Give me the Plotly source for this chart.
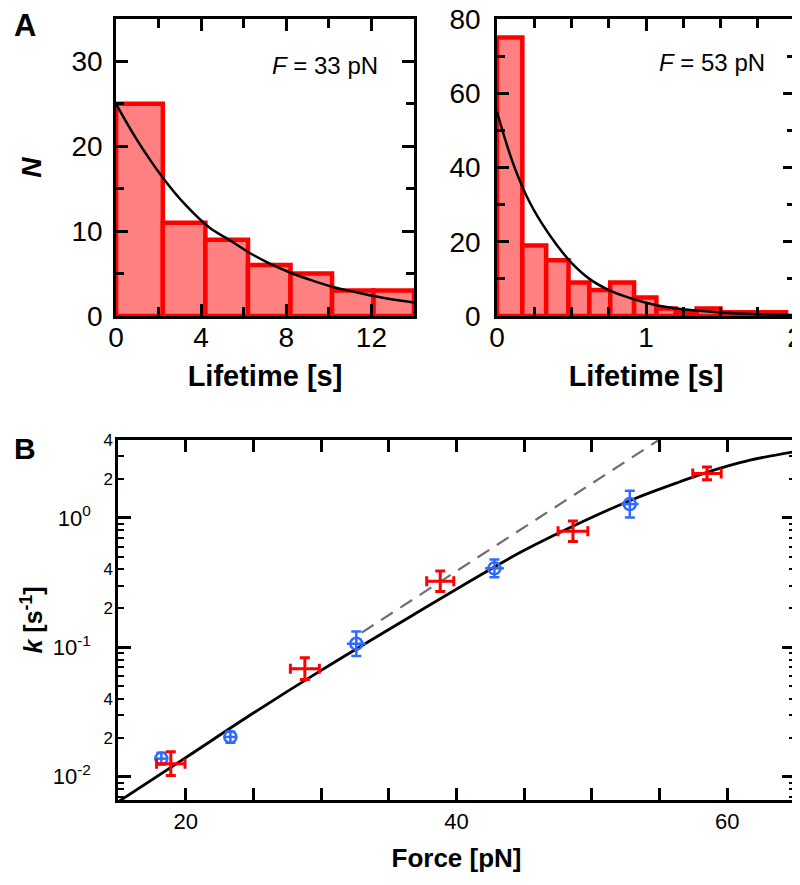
import numpy as np
import plotly.graph_objects as go

# ---------------- data ----------------
# Panel A, F = 33 pN histogram
hist33_edges = [0, 2.2, 4.2, 6.2, 8.2, 10.15, 12.1, 14.0]
hist33_counts = [25, 11, 9, 6, 5, 3, 3]
fit33_t = [0, 1.0, 2.2, 3.3, 4.4, 5.3, 6.3, 7.2, 8.2, 9.2, 10.15, 11.1, 12.1, 13.0, 14.0]
fit33_N = [25, 20.7, 16.3, 13.0, 10.4, 9.0, 7.4, 6.2, 5.1, 4.2, 3.45, 2.9, 2.35, 1.95, 1.6]

# Panel A, F = 53 pN histogram
hist53_edges = [0, 0.17, 0.33, 0.48, 0.62, 0.76, 0.92, 1.07, 1.20, 1.34, 1.50, 1.64, 1.79, 1.94]
hist53_counts = [75, 19, 15, 9, 7, 9, 5, 2, 1, 2, 1, 1, 1]
fit53_t = [0, 0.1, 0.2, 0.3, 0.4, 0.5, 0.62, 0.73, 0.85, 0.96, 1.07, 1.3, 1.52, 1.75, 2.0]
fit53_N = [55, 42, 32.2, 25.0, 19.2, 14.3, 10.0, 7.4, 5.4, 4.0, 2.9, 1.6, 0.9, 0.5, 0.25]

# Panel B, rate vs force
red_F = [18.9, 28.8, 38.8, 48.6, 58.5]
red_k = [0.0126, 0.0684, 0.324, 0.788, 2.21]
red_F_err = [1.05, 1.07, 1.0, 1.1, 1.05]
red_k_up = [0.0030, 0.0146, 0.065, 0.159, 0.27]
red_k_dn = [0.0024, 0.0120, 0.054, 0.131, 0.24]

blue_F = [18.2, 23.3, 32.6, 42.8, 52.8]
blue_k = [0.0138, 0.0203, 0.1066, 0.408, 1.28]
blue_F_err = [0.5, 0.5, 0.7, 0.7, 0.65]
blue_k_up = [0.0015, 0.002, 0.026, 0.07, 0.34]
blue_k_dn = [0.0014, 0.002, 0.021, 0.06, 0.27]

fit_F = [15, 20, 25, 30, 37, 42.7, 45, 49.1, 53.1, 56.5, 59, 61.4, 65]
fit_k = [0.00638, 0.01403, 0.03105, 0.0664, 0.1832, 0.412, 0.562, 0.914, 1.403, 1.905, 2.344, 2.754, 3.26]

bell_F = [33.0, 55.0]
bell_k = [0.130, 4.04]

# log-axis tick labels
decade_vals = [0.01, 0.1, 1]
decade_text = ["10<sup>-2</sup>", "10<sup>-1</sup>", "10<sup>0</sup>"]
sub_vals = [0.02, 0.04, 0.2, 0.4, 2, 4]
sub_text = ["2", "4", "2", "4", "2", "4"]
minor_vals = [0.007, 0.008, 0.009, 0.02, 0.03, 0.04, 0.05, 0.06, 0.07, 0.08, 0.09,
              0.2, 0.3, 0.4, 0.5, 0.6, 0.7, 0.8, 0.9, 2, 3, 4]

# ---------------- style ----------------
FONT = "Liberation Sans, Arial, sans-serif"
RED = "#ff0000"
PINK = "rgb(255,128,128)"
BLUE = "#2f6bff"
W, H = 792, 877   # page body has an 8px margin, so the figure is drawn 8px in

fig = go.Figure()


def add_hist(edges, counts, xa, ya):
    e = np.array(edges, dtype=float)
    centers = (e[:-1] + e[1:]) / 2
    widths = e[1:] - e[:-1]
    fig.add_trace(go.Bar(x=centers, y=counts, width=widths, xaxis=xa, yaxis=ya,
                         marker=dict(color=PINK, line=dict(color=RED, width=4.5)),
                         showlegend=False))


add_hist(hist33_edges, hist33_counts, "x", "y")
fig.add_trace(go.Scatter(x=fit33_t, y=fit33_N, mode="lines", xaxis="x", yaxis="y",
                         line=dict(color="black", width=2.5, shape="spline"), showlegend=False))
add_hist(hist53_edges, hist53_counts, "x2", "y2")
fig.add_trace(go.Scatter(x=fit53_t, y=fit53_N, mode="lines", xaxis="x2", yaxis="y2",
                         line=dict(color="black", width=2.5, shape="spline"), showlegend=False))

# Panel B
fig.add_trace(go.Scatter(x=bell_F, y=bell_k, mode="lines", xaxis="x3", yaxis="y3",
                         line=dict(color="rgb(110,110,110)", width=2.2, dash="14px,9px"),
                         showlegend=False))
fig.add_trace(go.Scatter(x=fit_F, y=fit_k, mode="lines", xaxis="x3", yaxis="y3",
                         line=dict(color="black", width=2.8, shape="spline", smoothing=1.0),
                         showlegend=False))
fig.add_trace(go.Scatter(x=blue_F, y=blue_k, mode="markers", xaxis="x3", yaxis="y3",
                         marker=dict(symbol="circle-open", size=12, color=BLUE,
                                     line=dict(width=2.5, color=BLUE)),
                         error_x=dict(type="data", array=blue_F_err, color=BLUE, thickness=2.5, width=0),
                         error_y=dict(type="data", array=blue_k_up, arrayminus=blue_k_dn,
                                      color=BLUE, thickness=2.5, width=5),
                         showlegend=False))
fig.add_trace(go.Scatter(x=red_F, y=red_k, mode="markers", xaxis="x3", yaxis="y3",
                         marker=dict(size=2, color=RED),
                         error_x=dict(type="data", array=red_F_err, color=RED, thickness=3, width=5),
                         error_y=dict(type="data", array=red_k_up, arrayminus=red_k_dn,
                                      color=RED, thickness=3, width=5),
                         showlegend=False))
# dummy trace so the overlay label axis is drawn
fig.add_trace(go.Scatter(x=[None], y=[None], xaxis="x3", yaxis="y4", mode="markers",
                         showlegend=False, hoverinfo="skip"))

TICKF_A = dict(family=FONT, size=28, color="black")
TICKF_B = dict(family=FONT, size=22, color="black")
common = dict(showline=True, linecolor="black", linewidth=2.5, mirror="allticks",
              ticks="inside", tickcolor="black", tickwidth=2.5, showgrid=False, zeroline=False,
              automargin=False, ticklabeloverflow="allow")

# plot areas, page pixels -> paper fractions
def dx(p0, p1):
    return [(p0 - 8) / W, (p1 - 8) / W]

def dy(top, bottom):
    return [1 - (bottom - 8) / H, 1 - (top - 8) / H]

fig.update_layout(
    width=W, height=H, autosize=False,
    margin=dict(l=0, r=0, t=0, b=0),
    paper_bgcolor="white", plot_bgcolor="white",
    font=dict(family=FONT, color="black"),
    barmode="overlay",
    xaxis=dict(domain=dx(116, 414), range=[0, 14], anchor="y",
               tickvals=[0, 4, 8, 12], ticklen=12, tickfont=TICKF_A, ticklabelstandoff=-5,
               minor=dict(dtick=2, ticks="inside", ticklen=9, tickcolor="black", tickwidth=2.5),
               title=dict(text="<b>Lifetime [s]</b>", font=dict(family=FONT, size=29), standoff=14),
               **common),
    yaxis=dict(domain=dy(19, 316), range=[0, 35], anchor="x",
               tickvals=[0, 10, 20, 30], ticklen=12, tickfont=TICKF_A, ticklabelstandoff=5,
               minor=dict(dtick=5, ticks="inside", ticklen=8, tickcolor="black", tickwidth=2.5),
               title=dict(text="<b><i>N</i></b>", font=dict(family=FONT, size=28), standoff=22),
               **common),
    xaxis2=dict(domain=dx(497, 795), range=[0, 2], anchor="y2",
                tickvals=[0, 1, 2], ticklen=12, tickfont=TICKF_A, ticklabelstandoff=-5,
                minor=dict(dtick=0.25, ticks="inside", ticklen=9, tickcolor="black", tickwidth=2.5),
                title=dict(text="<b>Lifetime [s]</b>", font=dict(family=FONT, size=29), standoff=14),
                **common),
    yaxis2=dict(domain=dy(19, 316), range=[0, 80], anchor="x2",
                tickvals=[0, 20, 40, 60, 80], ticklen=12, tickfont=TICKF_A, ticklabelstandoff=8,
                minor=dict(dtick=10, ticks="inside", ticklen=8, tickcolor="black", tickwidth=2.5),
                **common),
    xaxis3=dict(domain=dx(118, 795), range=[15, 65], anchor="y3",
                tickvals=[20, 40, 60], ticklen=12, tickfont=TICKF_B,
                minor=dict(dtick=5, ticks="inside", ticklen=8, tickcolor="black", tickwidth=2.5),
                title=dict(text="<b>Force [pN]</b>", font=dict(family=FONT, size=26), standoff=16),
                **common),
    yaxis3=dict(domain=dy(440, 800), type="log", range=[-2.18, 0.6025], anchor="x3",
                tickvals=decade_vals, ticktext=decade_text, ticklen=13, tickfont=TICKF_B,
                ticklabelstandoff=20,
                minor=dict(tickvals=minor_vals, ticks="inside", ticklen=6, tickcolor="black", tickwidth=2.2),
                title=dict(text="<b><i>k</i> [s<sup>-1</sup>]</b>", font=dict(family=FONT, size=25), standoff=3),
                **common),
    yaxis4=dict(domain=dy(440, 800), type="log", range=[-2.18, 0.6025], anchor="x3",
                overlaying="y3", side="left", showline=False, showgrid=False, zeroline=False,
                ticks="", tickvals=sub_vals, ticktext=sub_text, ticklabelstandoff=4,
                automargin=False, ticklabeloverflow="allow",
                tickfont=dict(family=FONT, size=17, color="black")),
    annotations=[
        dict(text="<i>F</i> = 33 pN", xref="x domain", yref="y domain", x=0.886, y=0.845,
             xanchor="right", yanchor="middle", showarrow=False, font=dict(family=FONT, size=24)),
        dict(text="<i>F</i> = 53 pN", xref="x2 domain", yref="y2 domain", x=0.906, y=0.852,
             xanchor="right", yanchor="middle", showarrow=False, font=dict(family=FONT, size=24)),
        dict(text="<b>A</b>", xref="paper", yref="paper", x=17 / W, y=1 - 18 / H,
             xanchor="center", yanchor="middle", showarrow=False, font=dict(family=FONT, size=31)),
        dict(text="<b>B</b>", xref="paper", yref="paper", x=17 / W, y=1 - 440 / H,
             xanchor="center", yanchor="middle", showarrow=False, font=dict(family=FONT, size=30)),
    ],
)

fig.write_html("out.html")
